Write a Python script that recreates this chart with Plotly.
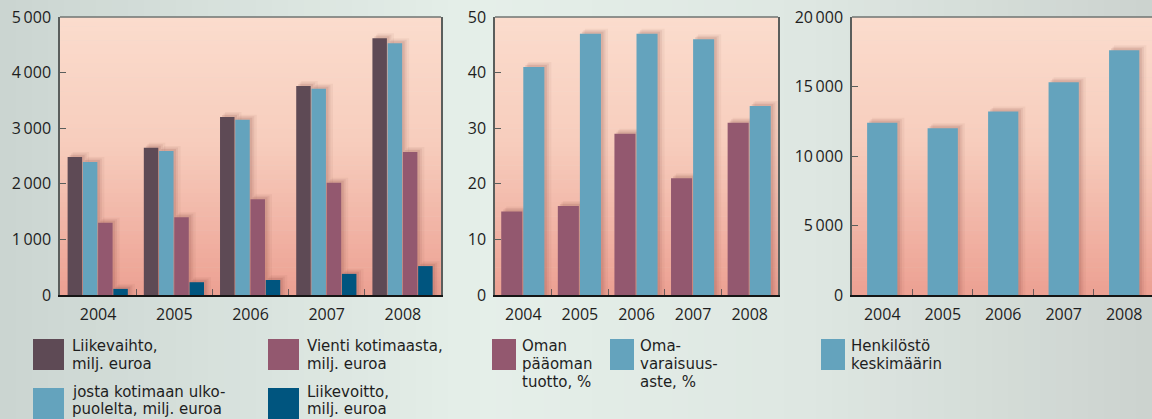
import plotly.graph_objects as go

W, H = 1152, 419

# ---------------- data ----------------
years = ["2004", "2005", "2006", "2007", "2008"]

liikevaihto = [2480, 2650, 3200, 3760, 4620]
josta_ulkopuolelta = [2390, 2590, 3150, 3710, 4530]
vienti_kotimaasta = [1300, 1400, 1720, 2020, 2570]
liikevoitto = [110, 230, 270, 380, 520]

oman_paaoman_tuotto = [15, 16, 29, 21, 31]
omavaraisuusaste = [41, 47, 47, 46, 34]

henkilosto = [12400, 12000, 13200, 15300, 17600]

left_tickvals = [0, 1000, 2000, 3000, 4000, 5000]
left_ticktext = ["0", "1\u2009000", "2\u2009000", "3\u2009000", "4\u2009000", "5\u2009000"]
mid_tickvals = [0, 10, 20, 30, 40, 50]
mid_ticktext = ["0", "10", "20", "30", "40", "50"]
right_tickvals = [0, 5000, 10000, 15000, 20000]
right_ticktext = ["0", "5\u2009000", "10\u2009000", "15\u2009000", "20\u2009000"]

# ---------------- styles ----------------
C_LV = "#5e4a55"
C_JOSTA = "#64a3bd"
C_VIENTI = "#93586f"
C_VOITTO = "#00557f"
FONT = "Open Sans"
LEG_FONT = "DejaVu Sans"
TXT = "#1e1e1e"

PY_TOP, PY_BOT = 17, 295          # plot area top/bottom in px
panels = {
    "left": dict(x0=60, x1=441, rng=[-0.5, 4.5], ymax=5000, mirror=True),
    "mid": dict(x0=495, x1=778, rng=[-0.5, 4.5], ymax=50, mirror=True),
    "right": dict(x0=852, x1=1152, rng=[-0.5, 4.46], ymax=20000, mirror=False),
}


def px_to_paper_x(px):
    return px / W


def px_to_paper_y(py):
    return (H - py) / H


def lerp_color(stops, t):
    for i in range(len(stops) - 1):
        t0, c0 = stops[i]
        t1, c1 = stops[i + 1]
        if t0 <= t <= t1:
            f = (t - t0) / (t1 - t0) if t1 > t0 else 0
            c = [round(c0[k] + (c1[k] - c0[k]) * f) for k in range(3)]
            return f"rgb({c[0]},{c[1]},{c[2]})"
    c = stops[-1][1]
    return f"rgb({c[0]},{c[1]},{c[2]})"


shapes = []

# page background: horizontal gradient
page_stops = [(0.0, (203, 213, 209)), (0.42, (229, 239, 233)), (0.7, (222, 231, 226)), (1.0, (204, 211, 207))]
N = 72
for i in range(N):
    t = (i + 0.5) / N
    shapes.append(dict(type="rect", xref="paper", yref="paper", x0=i / N, x1=(i + 1) / N + 0.002,
                       y0=-0.02, y1=1.02, fillcolor=lerp_color(page_stops, t), line=dict(width=0), layer="below"))

# plot areas: vertical gradient (top light peach -> bottom salmon)
plot_stops = [(0.0, (251, 220, 205)), (0.45, (247, 205, 189)), (1.0, (236, 160, 146))]
M = 60
for key, p in panels.items():
    for i in range(M):
        t = (i + 0.5) / M
        ya = PY_TOP + (PY_BOT - PY_TOP) * i / M
        yb = PY_TOP + (PY_BOT - PY_TOP) * (i + 1) / M + 0.6
        shapes.append(dict(type="rect", xref="paper", yref="paper",
                           x0=px_to_paper_x(p["x0"]), x1=px_to_paper_x(p["x1"]),
                           y0=px_to_paper_y(min(yb, PY_BOT)), y1=px_to_paper_y(ya),
                           fillcolor=lerp_color(plot_stops, t), line=dict(width=0), layer="below"))
    # top frame line
    shapes.append(dict(type="line", xref="paper", yref="paper",
                       x0=px_to_paper_x(p["x0"]), x1=px_to_paper_x(p["x1"]),
                       y0=px_to_paper_y(PY_TOP), y1=px_to_paper_y(PY_TOP),
                       line=dict(color="#6f7472", width=1.5), layer="above"))

fig = go.Figure()

axis_ids = {"left": ("x", "y"), "mid": ("x2", "y2"), "right": ("x3", "y3")}


def add_bars(panel, values, color, offset, width):
    p = panels[panel]
    xa, ya = axis_ids[panel]
    cat_px = (p["x1"] - p["x0"]) / (p["rng"][1] - p["rng"][0])
    unit_per_px = p["ymax"] / (PY_BOT - PY_TOP)
    # soft shadow (layers)
    for (dx, dy, dw, a) in [(5, 5, 2, 0.06), (3.5, 3.5, 1, 0.09), (2, 2, 0.5, 0.12)]:
        fig.add_trace(go.Bar(x=years, y=[v + dy * unit_per_px for v in values],
                             offset=offset + dx / cat_px, width=width + dw / cat_px,
                             marker=dict(color=f"rgba(120,60,50,{a})", line=dict(width=0)),
                             xaxis=xa, yaxis=ya, showlegend=False, hoverinfo="skip"))
    fig.add_trace(go.Bar(x=years, y=values, offset=offset, width=width,
                         marker=dict(color=color, line=dict(width=0)),
                         xaxis=xa, yaxis=ya, showlegend=False))


# left panel: 4 bars per year
add_bars("left", liikevaihto, C_LV, -0.40, 0.19)
add_bars("left", josta_ulkopuolelta, C_JOSTA, -0.20, 0.19)
add_bars("left", vienti_kotimaasta, C_VIENTI, 0.00, 0.19)
add_bars("left", liikevoitto, C_VOITTO, 0.20, 0.19)

# middle panel
add_bars("mid", oman_paaoman_tuotto, C_VIENTI, -0.39, 0.372)
add_bars("mid", omavaraisuusaste, C_JOSTA, 0.0, 0.372)

# right panel
add_bars("right", henkilosto, C_JOSTA, -0.25, 0.5)


def xaxis_cfg(panel, anchor):
    p = panels[panel]
    return dict(domain=[px_to_paper_x(p["x0"]), px_to_paper_x(p["x1"])], anchor=anchor,
                type="category", range=p["rng"], showgrid=False, zeroline=False, automargin=False,
                showline=True, linecolor="#151515", linewidth=2, mirror=False,
                ticks="inside", tickson="boundaries", ticklen=6, tickwidth=1, tickcolor="#6a5a5a",
                tickfont=dict(family=FONT, size=16, color=TXT), ticklabelstandoff=4,
                fixedrange=True)


def yaxis_cfg(panel, tv, tt, anchor):
    p = panels[panel]
    return dict(domain=[px_to_paper_y(PY_BOT), px_to_paper_y(PY_TOP)], anchor=anchor,
                range=[0, p["ymax"]], tickvals=tv, ticktext=tt, showgrid=False, zeroline=False,
                automargin=False,
                showline=True, linecolor="#5a5e5c", linewidth=1.5, mirror=p["mirror"],
                ticks="inside", ticklen=6, tickwidth=1, tickcolor="#5a5e5c",
                tickfont=dict(family=FONT, size=16, color=TXT), ticklabelstandoff=4,
                fixedrange=True)


# ---------------- legend (swatches + text lines) ----------------
legend_items = [
    # (swatch x0, x1, y0, y1, color, text x, [lines], [line centres y])
    (33, 64, 339, 370, C_LV, 71, ["Liikevaihto,", "milj. euroa"], [346.3, 363.8]),
    (268, 299, 339, 370, C_VIENTI, 306, ["Vienti kotimaasta,", "milj. euroa"], [346.3, 363.8]),
    (33, 64, 388, 420, C_JOSTA, 71, ["josta kotimaan ulko-", "puolelta, milj. euroa"], [391.6, 409.1]),
    (268, 299, 388, 420, C_VOITTO, 306, ["Liikevoitto,", "milj. euroa"], [391.6, 409.1]),
    (492, 516, 339, 370, C_VIENTI, 521, ["Oman", "pääoman", "tuotto, %"], [346.3, 364, 381.7]),
    (610, 634, 339, 370, C_JOSTA, 639, ["Oma-", "varaisuus-", "aste, %"], [346.3, 364, 381.7]),
    (821, 845, 339, 370, C_JOSTA, 850, ["Henkilöstö", "keskimäärin"], [346.3, 364]),
]

annotations = []
for sx0, sx1, sy0, sy1, col, tx, lines, ys in legend_items:
    shapes.append(dict(type="rect", xref="paper", yref="paper",
                       x0=px_to_paper_x(sx0), x1=px_to_paper_x(sx1),
                       y0=px_to_paper_y(sy1), y1=px_to_paper_y(sy0),
                       fillcolor=col, line=dict(width=0), layer="above"))
    for line, yc in zip(lines, ys):
        annotations.append(dict(xref="paper", yref="paper", x=px_to_paper_x(tx), y=px_to_paper_y(yc),
                                xanchor="left", yanchor="middle", text=line, showarrow=False,
                                borderpad=0,
                                font=dict(family=LEG_FONT, size=15, color=TXT)))

fig.update_layout(
    width=W, height=H, margin=dict(l=0, r=0, t=0, b=0, pad=0, autoexpand=False),
    paper_bgcolor="#dde6e1", plot_bgcolor="rgba(0,0,0,0)",
    barmode="overlay", showlegend=False,
    xaxis=xaxis_cfg("left", "y"), yaxis=yaxis_cfg("left", left_tickvals, left_ticktext, "x"),
    xaxis2=xaxis_cfg("mid", "y2"), yaxis2=yaxis_cfg("mid", mid_tickvals, mid_ticktext, "x2"),
    xaxis3=xaxis_cfg("right", "y3"), yaxis3=yaxis_cfg("right", right_tickvals, right_ticktext, "x3"),
    shapes=shapes, annotations=annotations,
    font=dict(family=FONT, color=TXT),
)

fig.write_html("out.html", config={"displayModeBar": False})
